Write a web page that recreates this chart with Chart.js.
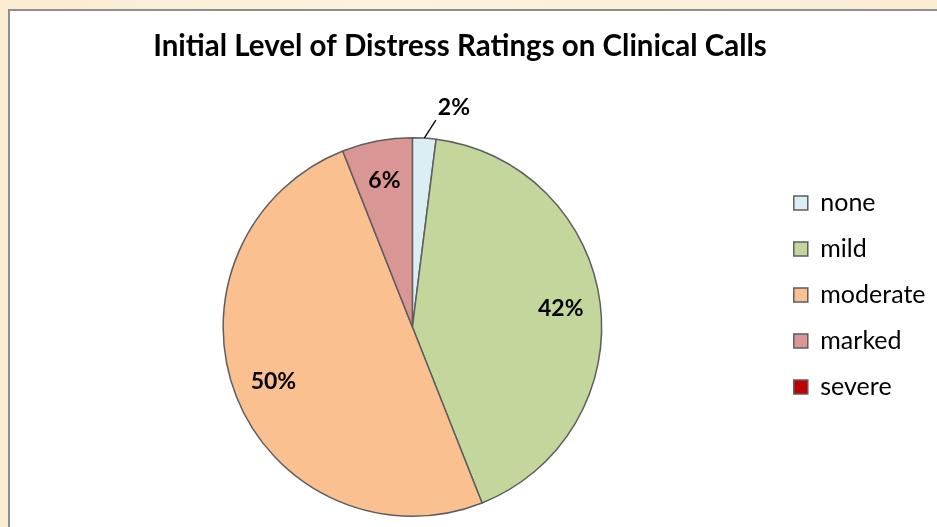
<!DOCTYPE html>
<html>
<head>
<meta charset="utf-8">
<script src="https://cdn.jsdelivr.net/npm/chart.js@4.4.0/dist/chart.umd.min.js"></script>
<style>
  html, body { margin: 0; padding: 0; }
  body {
    width: 937px; height: 527px; overflow: hidden; position: relative;
    background: linear-gradient(90deg, #fbecd2 0%, #fdf2de 40%, #fbedd4 100%);
  }
  #box {
    position: absolute; left: 8px; top: 9px; width: 960px; height: 540px;
    background: #fff; border-left: 2px solid #8e8e8e; border-top: 2px solid #8e8e8e;
  }
  #wrap { position: absolute; left: 10px; top: 10px; width: 927px; height: 517px; }
</style>
</head>
<body>
<div id="box"></div>
<div id="wrap"><canvas id="distress"></canvas></div>
<script>
var chartTitle = 'Initial Level of Distress Ratings on Clinical Calls';
var categories = ['none', 'mild', 'moderate', 'marked', 'severe'];
var percents = [2, 42, 50, 6, 0];
var sliceColors = ['#DBEEF4', '#C3D69B', '#FAC090', '#D99694', '#C00000'];

// title is centred on the whole plot box, not on the pie, so draw it here
var boxTitle = {
  id: 'boxTitle',
  afterDraw: function (chart) {
    var ctx = chart.ctx;
    ctx.save();
    ctx.font = 'bold 29.5px Lato';
    ctx.fillStyle = '#000';
    ctx.textAlign = 'center';
    ctx.textBaseline = 'middle';
    ctx.fillText(chartTitle, 450, 36);
    ctx.restore();
  }
};

// labels drawn on top of the slices, the small one goes outside with a leader line
var sliceLabels = {
  id: 'sliceLabels',
  afterDatasetsDraw: function (chart) {
    var ctx = chart.ctx;
    var meta = chart.getDatasetMeta(0);
    ctx.save();
    ctx.font = 'bold 23px Lato';
    ctx.fillStyle = '#000';
    meta.data.forEach(function (arc, i) {
      var v = percents[i];
      if (!v) return;
      var p = arc.getProps(['x', 'y', 'startAngle', 'endAngle', 'outerRadius'], true);
      var mid = (p.startAngle + p.endAngle) / 2;
      var R = p.outerRadius;
      if (v < 4) {
        var sx = p.x + Math.cos(mid) * R, sy = p.y + Math.sin(mid) * R;
        var a2 = mid + 0.05;
        var ex = p.x + Math.cos(a2) * R * 1.1, ey = p.y + Math.sin(a2) * R * 1.1;
        ctx.strokeStyle = '#000';
        ctx.lineWidth = 1.3;
        ctx.beginPath();
        ctx.moveTo(sx, sy);
        ctx.lineTo(ex, ey);
        ctx.stroke();
        ctx.textAlign = 'left';
        ctx.textBaseline = 'middle';
        ctx.fillText(v + '%', ex + 2, ey - 13);
      } else {
        ctx.textAlign = 'center';
        ctx.textBaseline = 'middle';
        ctx.fillText(v + '%', p.x + Math.cos(mid) * R * 0.79, p.y + Math.sin(mid) * R * 0.79);
      }
    });
    ctx.restore();
  }
};

new Chart(document.getElementById('distress').getContext('2d'), {
  type: 'pie',
  data: {
    labels: categories,
    datasets: [{
      data: percents,
      backgroundColor: sliceColors,
      borderColor: '#5e5e5e',
      borderWidth: 1.5
    }]
  },
  options: {
    responsive: true,
    maintainAspectRatio: false,
    animation: false,
    layout: { padding: { left: 42, top: 127, bottom: 10, right: 1.5 } },
    plugins: {
      title: { display: false },
      legend: {
        position: 'right',
        align: 'start',
        title: { display: true, text: ' ', font: { size: 10 }, padding: { top: 20.5, bottom: 0 } },
        labels: {
          color: '#000',
          font: { family: 'Lato', size: 25 },
          boxWidth: 14,
          boxHeight: 14,
          padding: 21
        }
      },
      tooltip: { enabled: false }
    }
  },
  plugins: [sliceLabels, boxTitle]
});
</script>
</body>
</html>
